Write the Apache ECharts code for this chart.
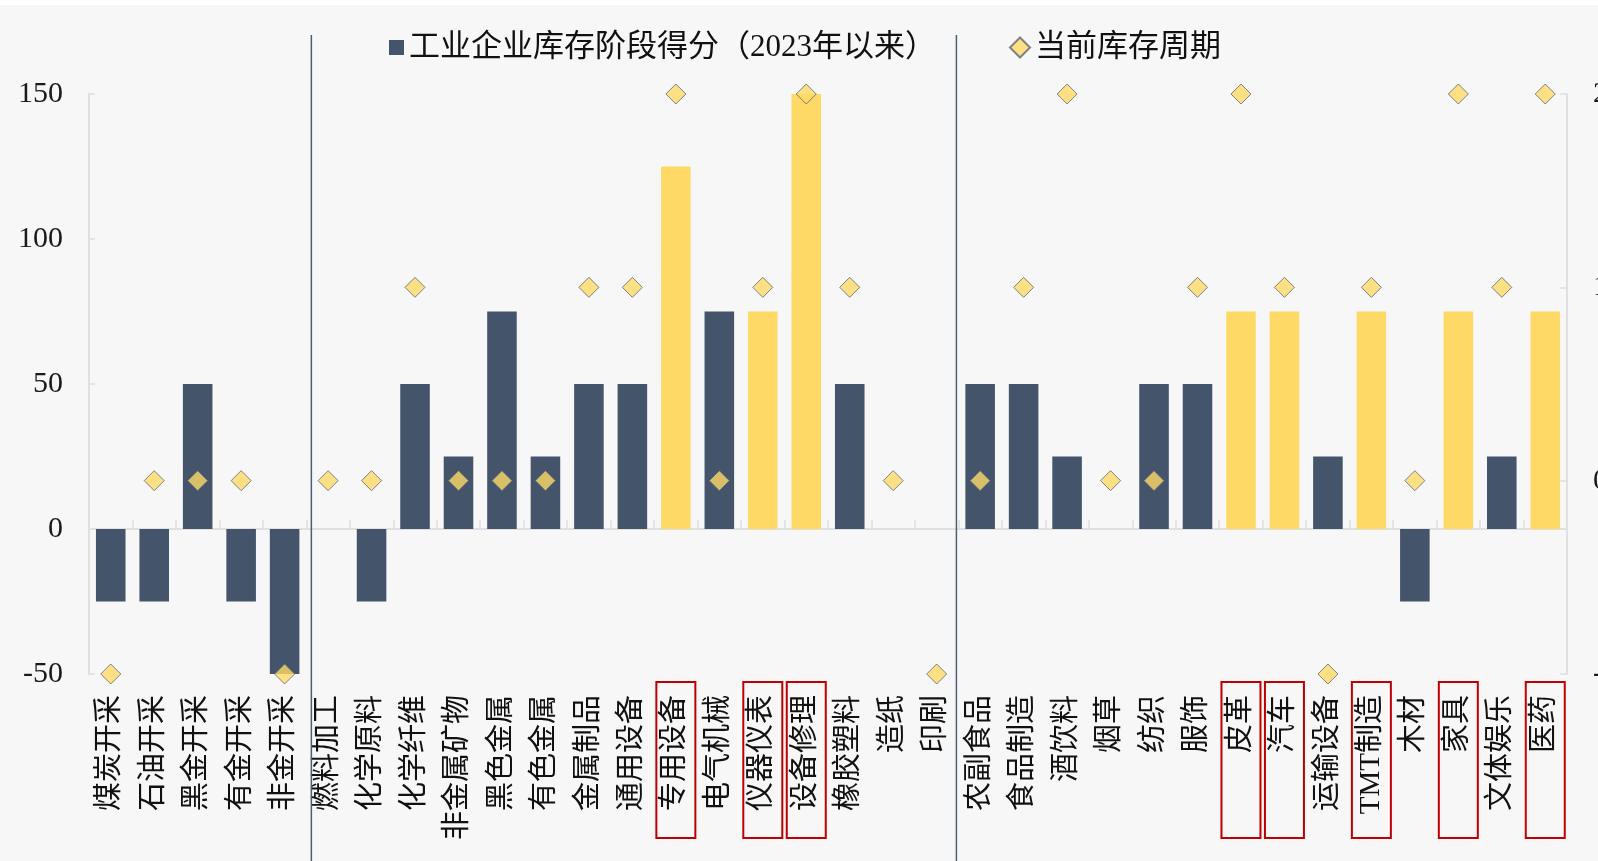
<!DOCTYPE html>
<html>
<head>
<meta charset="utf-8">
<script src="https://cdn.jsdelivr.net/npm/echarts@6/dist/echarts.min.js"></script>
<style>
  html, body { margin: 0; padding: 0; background: #ffffff; }
  #chart { position: absolute; left: 0; top: 5px; width: 1598px; height: 856px; background: #f7f7f7; }
</style>
</head>
<body>
<div id="chart"></div>
<script>
// Industry categories, grouped: mining | upstream & midstream manufacturing | consumer & downstream
const categories = [
  '煤炭开采', '石油开采', '黑金开采', '有金开采', '非金开采',
  '燃料加工', '化学原料', '化学纤维', '非金属矿物', '黑色金属', '有色金属', '金属制品',
  '通用设备', '专用设备', '电气机械', '仪器仪表', '设备修理', '橡胶塑料', '造纸', '印刷',
  '农副食品', '食品制造', '酒饮料', '烟草', '纺织', '服饰', '皮革', '汽车', '运输设备',
  'TMT制造', '木材', '家具', '文体娱乐', '医药'
];

// Inventory stage score since 2023 (left axis)
const stageScore = [
  -25, -25, 50, -25, -50,
  0, -25, 50, 25, 75, 25, 50,
  50, 125, 75, 75, 150, 50, 0, 0,
  50, 50, 25, 0, 50, 50, 75, 75, 25,
  75, -25, 75, 25, 75
];

// Current inventory cycle position (right axis)
const currentCycle = [
  -1, 0, 0, 0, -1,
  0, 0, 1, 0, 0, 0, 1,
  1, 2, 0, 1, 2, 1, 0, -1,
  0, 1, 2, 0, 0, 1, 2, 1, -1,
  1, 0, 2, 1, 2
];

// Industries highlighted in yellow with a boxed label
const highlighted = ['专用设备', '仪器仪表', '设备修理', '皮革', '汽车', 'TMT制造', '家具', '医药'];

// Group boundaries (separator after these category indices)
const groupEnds = [4, 19];

const leftTicks = { min: -50, max: 150, interval: 50 };
const rightTicks = { min: -1, max: 2, interval: 1 };

const seriesNames = ['工业企业库存阶段得分（2023年以来）', '当前库存周期'];

const DARK = '#44546a';
const GOLD = '#ffd966';
const AXIS_GRAY = '#e0e0e0';
const FONT = "'Liberation Serif', 'Noto Sans CJK SC', serif";

const chart = echarts.init(document.getElementById('chart'), null, { renderer: 'canvas' });

const labelBase = {
  fontSize: 29,
  fontFamily: FONT,
  color: '#111111',
  lineHeight: 30,
  padding: [5, 13, 5, 4]
};

const option = {
  backgroundColor: '#f7f7f7',
  animation: false,
  grid: {
    left: 89, right: 31, top: 89, bottom: 187,
    containLabel: false,
    outerBoundsMode: 'none'
  },
  legend: [
    {
      data: [seriesNames[0]],
      left: 384, top: 22,
      icon: 'rect', itemWidth: 15, itemHeight: 15,
      textStyle: { fontSize: 31, fontFamily: FONT, color: '#111111' }
    },
    {
      data: [seriesNames[1]],
      left: 1004, top: 22,
      icon: 'diamond', itemWidth: 20, itemHeight: 20,
      textStyle: { fontSize: 31, fontFamily: FONT, color: '#111111' }
    }
  ],
  xAxis: [
    {
      type: 'category',
      data: categories,
      position: 'bottom',
      axisLine: { show: false, onZero: false },
      axisTick: { show: false },
      axisLabel: {
        interval: 0,
        rotate: 90,
        margin: 8,
        hideOverlap: false,
        formatter: (v) => highlighted.includes(v) ? '{hl|' + v + '}' : '{n|' + v + '}',
        rich: {
          n: Object.assign({}, labelBase),
          hl: Object.assign({}, labelBase, {
            width: 139,
            align: 'right',
            borderColor: '#c00000',
            borderWidth: 2
          })
        }
      }
    },
    {
      type: 'category',
      data: categories,
      position: 'top',
      axisLine: { show: true, onZero: true, lineStyle: { color: AXIS_GRAY, width: 2 } },
      axisTick: { show: true, inside: false, length: 9, interval: 0, lineStyle: { color: AXIS_GRAY, width: 1.5 } },
      axisLabel: { show: false },
      splitLine: { show: false }
    }
  ],
  yAxis: [
    {
      type: 'value',
      position: 'left',
      min: leftTicks.min, max: leftTicks.max, interval: leftTicks.interval,
      axisLine: { show: true, lineStyle: { color: AXIS_GRAY, width: 2 } },
      axisTick: { show: true, inside: true, length: 6, lineStyle: { color: AXIS_GRAY, width: 1.5 } },
      splitLine: { show: false },
      axisLabel: { fontSize: 30, fontFamily: FONT, color: '#1a1a1a', margin: 26 }
    },
    {
      type: 'value',
      position: 'right',
      min: rightTicks.min, max: rightTicks.max, interval: rightTicks.interval,
      axisLine: { show: true, lineStyle: { color: AXIS_GRAY, width: 2 } },
      axisTick: { show: true, inside: true, length: 7, lineStyle: { color: AXIS_GRAY, width: 1.5 } },
      splitLine: { show: false },
      axisLabel: { fontSize: 30, fontFamily: FONT, color: '#1a1a1a', margin: 26 }
    }
  ],
  series: [
    {
      name: seriesNames[0],
      type: 'bar',
      xAxisIndex: 0,
      yAxisIndex: 0,
      barWidth: '68%',
      itemStyle: { color: DARK },
      data: stageScore.map((v, i) => ({
        value: v,
        itemStyle: { color: highlighted.includes(categories[i]) ? GOLD : DARK }
      })),
      z: 2
    },
    {
      name: seriesNames[1],
      type: 'scatter',
      xAxisIndex: 0,
      yAxisIndex: 1,
      symbol: 'diamond',
      symbolSize: [20, 20],
      itemStyle: { color: GOLD, borderColor: '#5c667a', borderWidth: 1 },
      data: currentCycle,
      z: 5
    }
  ]
};

chart.setOption(option);

// Vertical separators between industry groups, placed at category boundaries
const boundaryX = groupEnds.map((idx) => {
  const a = chart.convertToPixel({ xAxisIndex: 0 }, idx);
  const b = chart.convertToPixel({ xAxisIndex: 0 }, idx + 1);
  return (a + b) / 2;
});
const nudges = [5, -2];
chart.setOption({
  graphic: boundaryX.map((x, k) => ({
    type: 'line',
    silent: true,
    z: 10,
    shape: { x1: x + nudges[k], y1: 30, x2: x + nudges[k], y2: 856 },
    style: { stroke: '#4f5d76', lineWidth: 1.5 }
  }))
});
</script>
</body>
</html>
